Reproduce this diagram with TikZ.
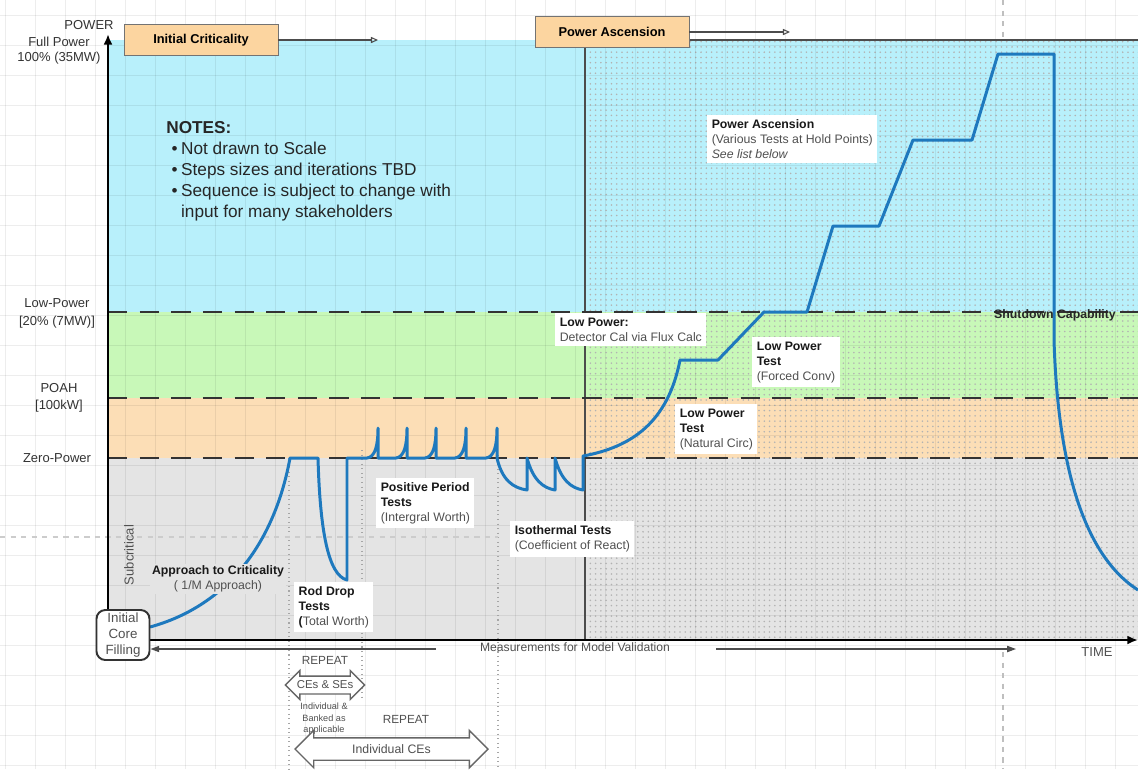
\documentclass[tikz,border=0pt]{standalone}
\usepackage{fontspec}
\setmainfont{Liberation Sans}
\usepackage{xcolor}
\usepackage{tikz}
\usetikzlibrary{arrows.meta, shapes.arrows, patterns, calc}
\definecolor{bandblue}{RGB}{184,240,251}
\definecolor{bandgreen}{RGB}{200,248,184}
\definecolor{bandorange}{RGB}{252,222,182}
\definecolor{bandgray}{RGB}{228,228,228}
\definecolor{phaseorange}{RGB}{252,213,160}
\definecolor{traceblue}{RGB}{30,121,190}
\definecolor{inkgray}{RGB}{80,80,80}
\newcommand{\testhead}[1]{\textcolor{black!90}{\textbf{#1}}}

\begin{document}
\begin{tikzpicture}[
    x=0.02cm, y=-0.02cm,
    phase/.style={rectangle, draw=black!55, fill=phaseorange, minimum width=3.08cm, minimum height=0.63cm, font=\bfseries\fontsize{7.3}{9}\selectfont},
    note/.style={rectangle, fill=white, inner sep=2.5pt, anchor=north west, align=left, font=\fontsize{7}{8.5}\selectfont, text=inkgray},
    axislabel/.style={align=center, text=black!80, font=\fontsize{7.4}{8.5}\selectfont},
    powerlevel/.style={line width=0.9pt, black!80, dash pattern=on 11pt off 7pt},
    guide/.style={black!35, dotted, line width=0.6pt},
    trace/.style={line width=1.7pt, traceblue, line join=round},
    flow/.style={black!70, line width=0.6pt, -{Triangle[open, length=4pt, width=3.5pt]}},
    meas/.style={black!70, line width=0.7pt, -{Triangle[length=5pt, width=3.5pt]}},
    repeatarrow/.style={double arrow, draw=black!60, fill=white, line width=0.8pt, text=inkgray, inner xsep=1pt}
]
\useasboundingbox (0,0) rectangle (1138,769);
\fill[white] (0,0) rectangle (1138,769);

% power bands
\fill[bandblue] (108,40) rectangle (1138,312);
\fill[bandgreen] (108,312) rectangle (1138,398);
\fill[bandorange] (108,398) rectangle (1138,458);
\fill[bandgray] (108,458) rectangle (1138,640);
\fill[pattern=dots, pattern color=black!30] (585,40) rectangle (1138,640);

% background grid
\foreach \gx in {5,35,...,1135} \draw[black, opacity=0.07, line width=0.4pt] (\gx,0) -- (\gx,769);
\foreach \gy in {15,45,...,765} \draw[black, opacity=0.07, line width=0.4pt] (0,\gy) -- (1138,\gy);

\draw[black!70, line width=0.6pt] (585,640) -- (585,40) -- (1138,40);
\foreach \ly in {312,398,458} \draw[powerlevel] (108,\ly) -- (1138,\ly);

\draw[guide] (289,458) -- (289,769);
\draw[guide] (362,450) -- (362,700);
\draw[guide] (498,455) -- (498,769);
\draw[black!20, dashed, line width=0.6pt] (0,537) -- (498,537);
\draw[black!25, dashed, line width=0.6pt] (1003,0) -- (1003,40);
\draw[black!25, dashed, line width=0.6pt] (1003,652) -- (1003,769);

% axes
\coordinate (origin) at (108,640);
\coordinate (ytop) at (108,34);
\coordinate (xend) at (1138,640);
\draw[line width=1.4pt, -{Latex[length=6pt, width=5pt]}] (origin) -- (ytop);
\draw[line width=1.4pt, -{Latex[length=6pt, width=5pt]}] (origin) -- (xend);

% power history
\coordinate (fillout) at (150,627);
\draw[trace] (fillout) .. controls (230,605) and (275,540) .. (290,458) -- (318,458)
  .. controls (320,530) and (328,575) .. (347,580) -- (347,458)
  \foreach \sx in {378,407,436,466,497} { -- ({\sx-11},458) .. controls ({\sx-3},457) and (\sx,446) .. (\sx,428) -- (\sx,458) }
  .. controls (502,480) and (513,488) .. (527,490) -- (527,458)
  .. controls (533,480) and (543,488) .. (555,490) -- (555,458)
  .. controls (561,480) and (571,488) .. (583,490) -- (583,456)
  .. controls (632,447) and (668,422) .. (680,360) -- (718,360) -- (764,312) -- (807,312)
  -- (833,226) -- (879,226) -- (913,140) -- (972,140) -- (998,54) -- (1054,54)
  -- (1054,340) .. controls (1058,470) and (1085,556) .. (1138,590);

\node[draw=black!80, line width=1.1pt, rounded corners=5pt, fill=white, minimum width=1.06cm, minimum height=1.0cm, align=center, text=inkgray, font=\fontsize{7.6}{8.9}\selectfont, inner sep=1pt] (core) at (123,635) {Initial\\Core\\Filling};

% axis labels
\node[axislabel] (powerlbl) at (89,25) {POWER};
\node[axislabel] (fullp) at (59,51) {Full Power\\100\% (35MW)};
\node[axislabel, font=\fontsize{7.4}{10.2}\selectfont] (lowp) at (57,313) {Low-Power\\{[}20\% (7MW){]}};
\node[axislabel, font=\fontsize{7.4}{9.6}\selectfont] (poah) at (59,398) {POAH\\{[}100kW{]}};
\node[axislabel] (zerop) at (57,458) {Zero-Power};
\node[axislabel, rotate=90, text=inkgray] (subcrit) at (129,555) {Subcritical};
\node[axislabel, text=inkgray] (timelbl) at (1097,652) {TIME};

% phases
\node[phase] (initcrit) at (201,40) {Initial Criticality};
\node[phase] (powasc) at (612,32) {Power Ascension};
\coordinate (initend) at (378,40);
\coordinate (ascend) at (790,32);
\draw[flow] (initcrit.east) -- (initend);
\draw[flow] (powasc.east) -- (ascend);

\node[anchor=north west, align=left, inner sep=0pt, font=\fontsize{9.8}{12}\selectfont, text=black!85] (notes) at (166,121) {
    \textbf{NOTES:}\\
    \hspace{3pt}\textbullet\hspace{2pt}Not drawn to Scale\\
    \hspace{3pt}\textbullet\hspace{2pt}Steps sizes and iterations TBD\\
    \hspace{3pt}\textbullet\hspace{2pt}Sequence is subject to change with\\
    \hspace{3pt}\phantom{\textbullet}\hspace{2pt}input for many stakeholders};

% test labels
\node[note] (ascnote) at (707,115) {\testhead{Power Ascension}\\(Various Tests at Hold Points)\\\textit{See list below}};
\node[note] (detnote) at (555,313) {\testhead{Low Power:}\\Detector Cal via Flux Calc};
\node[note] (forcednote) at (752,337) {\testhead{Low Power}\\\testhead{Test}\\(Forced Conv)};
\node[note] (naturalnote) at (675,404) {\testhead{Low Power}\\\testhead{Test}\\(Natural Circ)};
\node[note] (posnote) at (376,478) {\testhead{Positive Period}\\\testhead{Tests}\\(Intergral Worth)};
\node[note] (isonote) at (510,521) {\testhead{Isothermal Tests}\\(Coefficient of React)};
\node[note] (rodnote) at (294,582) {\testhead{Rod Drop}\\\testhead{Tests}\\\testhead{(}Total Worth)};
\node[align=center, fill=bandgray, inner sep=1pt, font=\fontsize{7}{8.5}\selectfont, text=inkgray] (approach) at (218,579) {\testhead{Approach to Criticality}\\( 1/M Approach)};
\node[font=\bfseries\fontsize{7}{8.5}\selectfont, text=black!85] (shutdown) at (1055,315) {Shutdown Capability};

% measurements and repeats
\node[font=\fontsize{6.9}{8}\selectfont, text=inkgray] (measure) at (575,647) {Measurements for Model Validation};
\coordinate (measL) at (436,649);
\coordinate (measR) at (716,649);
\coordinate (measRend) at (1016,649);
\draw[meas] (measL) -- (core.east |- measL);
\draw[meas] (measR) -- (measRend);

\node[font=\fontsize{6.7}{8}\selectfont, text=inkgray] (rep1) at (325,660) {REPEAT};
\node[repeatarrow, minimum height=1.52cm, minimum width=0.56cm, double arrow head extend=0.11cm, inner ysep=2.4pt, font=\fontsize{6.5}{7}\selectfont] (cesarrow) at (325,685) {CEs \& SEs};
\node[font=\fontsize{5.2}{6.6}\selectfont, text=inkgray, align=center] (banked) at (324,719) {Individual \&\\Banked as\\applicable};
\node[font=\fontsize{6.7}{8}\selectfont, text=inkgray] (rep2) at (406,719) {REPEAT};
\node[repeatarrow, minimum height=3.86cm, minimum width=0.72cm, double arrow head extend=0.15cm, inner ysep=3.4pt, font=\fontsize{7}{8}\selectfont] (cearrow) at (391.5,749) {Individual CEs};

\end{tikzpicture}
\end{document}
